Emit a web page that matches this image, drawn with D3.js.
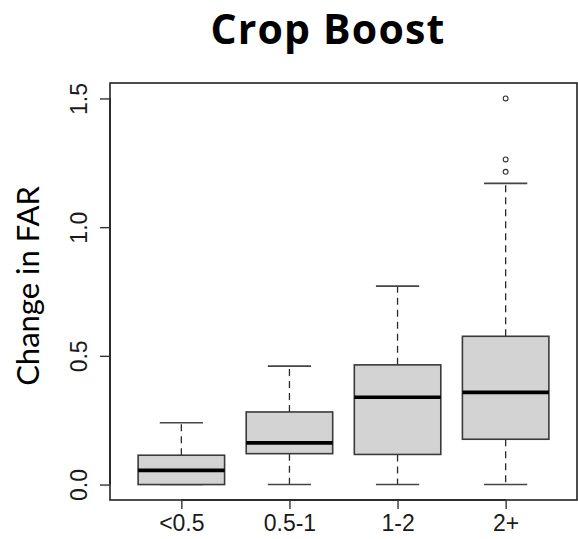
<!DOCTYPE html>
<html>
<head>
<meta charset="utf-8">
<script src="https://cdn.jsdelivr.net/npm/d3@7"></script>
<style>
  html, body { margin: 0; padding: 0; background: #ffffff; }
  svg { display: block; }
</style>
</head>
<body>
<svg id="chart" width="578" height="539"></svg>
<script>
// Box-plot summaries for change in FAR, by group
const categories     = ["<0.5", "0.5-1", "1-2", "2+"];
const lowerWhisker   = [0.0,   0.0,   0.0,   0.0];
const quartile1      = [0.0,   0.12,  0.117, 0.176];
const medians        = [0.055, 0.162, 0.339, 0.358];
const quartile3      = [0.114, 0.282, 0.465, 0.576];
const upperWhisker   = [0.24,  0.46,  0.771, 1.17];
const outlierGroup   = ["2+", "2+", "2+"];
const outlierValues  = [1.5, 1.263, 1.215];
const yTicks         = [0.0, 0.5, 1.0, 1.5];

const svg = d3.select("#chart");
const plot = { left: 110, right: 577, top: 83, bottom: 500 };

// Positions 1..n with the usual 4% padding around [0.5, n + 0.5]
const n = categories.length;
const xPad = 0.04 * n;
const x = d3.scaleLinear()
  .domain([0.5 - xPad, n + 0.5 + xPad])
  .range([plot.left, plot.right]);
const y = d3.scaleLinear()
  .domain([-0.06, 1.56])
  .range([plot.bottom, plot.top]);

const boxHalf = 0.4;     // box width 0.8 units
const capHalf = 0.2;     // staple half the box width
const ink = "#2b2b2b";

const data = categories.map((c, i) => ({
  cat: c, pos: i + 1,
  lo: lowerWhisker[i], q1: quartile1[i], med: medians[i],
  q3: quartile3[i], hi: upperWhisker[i]
}));

const g = svg.append("g");

// dashed whiskers
g.selectAll("line.whisk-up").data(data).join("line")
  .attr("x1", d => x(d.pos)).attr("x2", d => x(d.pos))
  .attr("y1", d => y(d.q3)).attr("y2", d => y(d.hi))
  .attr("stroke", ink).attr("stroke-width", 1.3)
  .attr("stroke-dasharray", "7,5");
g.selectAll("line.whisk-lo").data(data).join("line")
  .attr("x1", d => x(d.pos)).attr("x2", d => x(d.pos))
  .attr("y1", d => y(d.q1)).attr("y2", d => y(d.lo))
  .attr("stroke", ink).attr("stroke-width", 1.3)
  .attr("stroke-dasharray", "7,5");

// staples
["hi", "lo"].forEach(k => {
  g.selectAll(null).data(data).join("line")
    .attr("x1", d => x(d.pos - capHalf)).attr("x2", d => x(d.pos + capHalf))
    .attr("y1", d => y(d[k])).attr("y2", d => y(d[k]))
    .attr("stroke", "#444").attr("stroke-width", 1.6);
});

// boxes
g.selectAll("rect.box").data(data).join("rect")
  .attr("x", d => x(d.pos - boxHalf))
  .attr("width", d => x(d.pos + boxHalf) - x(d.pos - boxHalf))
  .attr("y", d => y(d.q3))
  .attr("height", d => y(d.q1) - y(d.q3))
  .attr("fill", "#d3d3d3")
  .attr("stroke", "#3a3a3a").attr("stroke-width", 1.6);

// medians
g.selectAll("line.med").data(data).join("line")
  .attr("x1", d => x(d.pos - boxHalf)).attr("x2", d => x(d.pos + boxHalf))
  .attr("y1", d => y(d.med)).attr("y2", d => y(d.med))
  .attr("stroke", "#000").attr("stroke-width", 3.6);

// outliers
g.selectAll("circle.out").data(outlierValues).join("circle")
  .attr("cx", (v, i) => x(categories.indexOf(outlierGroup[i]) + 1))
  .attr("cy", v => y(v))
  .attr("r", 2.4)
  .attr("fill", "none").attr("stroke", "#333").attr("stroke-width", 1.1);

// plot frame
svg.append("rect")
  .attr("x", plot.left).attr("y", plot.top)
  .attr("width", plot.right - plot.left).attr("height", plot.bottom - plot.top)
  .attr("fill", "none").attr("stroke", "#222").attr("stroke-width", 1.6);

// axes
const tickFont = "'Liberation Sans', Arial, sans-serif";
const xAxis = d3.axisBottom(x)
  .tickValues(d3.range(1, n + 1))
  .tickFormat(d => categories[d - 1])
  .tickSize(9).tickPadding(6);
const xg = svg.append("g")
  .attr("transform", `translate(0,${plot.bottom})`)
  .call(xAxis);
xg.select(".domain").attr("d", `M${x(1)},0H${x(n)}`).attr("stroke", "#222").attr("stroke-width", 1.6);
xg.selectAll(".tick line").attr("stroke", "#333").attr("stroke-width", 1.4);
xg.selectAll(".tick text")
  .attr("font-family", tickFont).attr("font-size", 23)
  .attr("fill", "#1a1a1a");

const yAxis = d3.axisLeft(y)
  .tickValues(yTicks)
  .tickFormat(d3.format(".1f"))
  .tickSize(10).tickPadding(0);
const yg = svg.append("g")
  .attr("transform", `translate(${plot.left},0)`)
  .call(yAxis);
yg.select(".domain").attr("d", `M0,${y(yTicks[0])}V${y(yTicks[yTicks.length - 1])}`).attr("stroke", "#222").attr("stroke-width", 1.6);
yg.selectAll(".tick line").attr("stroke", "#333").attr("stroke-width", 1.4);
yg.selectAll(".tick text")
  .attr("font-family", tickFont).attr("font-size", 23)
  .attr("fill", "#1a1a1a")
  .attr("x", null).attr("dy", null)
  .attr("text-anchor", "middle")
  .attr("transform", "translate(-23,0) rotate(-90)");

// title
svg.append("text")
  .attr("x", 328).attr("y", 44)
  .attr("text-anchor", "middle")
  .attr("font-family", "'Open Sans', Lato, sans-serif")
  .attr("font-weight", "bold")
  .attr("font-size", 41)
  .attr("letter-spacing", 1.2)
  .attr("fill", "#000")
  .text("Crop Boost");

// y-axis label
svg.append("text")
  .attr("transform", "translate(39,286) rotate(-90)")
  .attr("text-anchor", "middle")
  .attr("font-family", "Lato, 'Open Sans', sans-serif")
  .attr("font-size", 31)
  .attr("fill", "#000")
  .text("Change in FAR");
</script>
</body>
</html>
